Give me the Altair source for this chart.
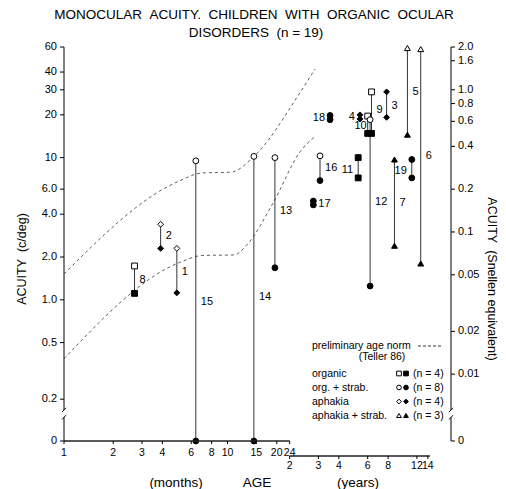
import altair as alt
import pandas as pd

# ---------------- data ----------------
title_lines = [
    "MONOCULAR\u00a0\u00a0ACUITY.\u00a0\u00a0CHILDREN\u00a0\u00a0WITH\u00a0\u00a0ORGANIC\u00a0\u00a0OCULAR",
    "DISORDERS\u00a0\u00a0(n = 19)",
]

subjects = [str(i) for i in range(1, 20)]
groups = ["aphakia"] * 4 + ["aphakia + strab."] * 3 + ["organic"] * 4 + ["org. + strab."] * 8
age_months = [4.9, 3.9, 94, 64.6, 126, 152, 105, 2.7, 76, 72, 63, 74.5, 19.5, 14.5, 6.4, 36.8, 33.5, 42.4, 134]
acuity_a = [2.3, 3.4, 29, 20, 59, 58, 9.7, 1.73, 29, 19.6, 10, 18.5, 10, 10.2, 9.5, 10.3, 4.95, 19.8, 9.7]
state_a = ["open", "open", "filled", "filled", "open", "open", "filled", "open", "open", "open",
           "filled", "open", "open", "open", "open", "open", "filled", "filled", "filled"]
acuity_b = [1.12, 2.3, 19.2, 18.7, 14.5, 1.8, 2.4, 1.11, 14.8, 14.8, 7.2, 1.25, 1.68, 0, 0, 6.9, 4.65, 18.5, 7.2]
state_b = ["filled"] * 19
label_acuity = [1.58, 2.8, 23, 19.4, 29, 10.3, 4.8, 1.37, 21.8, 16.6, 8.2, 4.9, 4.2, 1.05, 0.96, 8.4, 4.75, 19.1, 8.1]
label_side = ["right", "right", "right", "left", "right", "right", "right", "right", "right", "left",
              "left", "right", "right", "right", "right", "right", "right", "left", "left"]

norm_age = [1, 5.0, 7.0, 10.5, 14.5, 27.8, 34.3]
norm_upper = [1.52, 6.8, 7.8, 7.9, 10.2, 28.7, 42]
norm_age_low = [1, 5.2, 7.0, 11.0, 13.0, 19.0, 27.8, 34.3]
norm_lower = [0.385, 1.85, 2.05, 2.07, 2.4, 4.8, 11.0, 14.1]

left_tick_values = [60, 40, 30, 20, 10, 6, 4, 2, 1, 0.5, 0.2, 0]
left_tick_labels = ["60", "40", "30", "20", "10", "6.0", "4.0", "2.0", "1.0", "0.5", "0.2", "0"]
snellen_values = [2.0, 1.6, 1.0, 0.8, 0.6, 0.4, 0.2, 0.1, 0.05, 0.02, 0.01, 0]
snellen_labels = ["2.0", "1.6", "1.0", "0.8", "0.6", "0.4", "0.2", "0.1", "0.05", "0.02", "0.01", "0"]
month_ticks = [1, 2, 3, 4, 6, 8, 10, 15, 20, 24]
year_ticks = [2, 3, 4, 6, 8, 12, 14]
legend_groups = ["organic", "org. + strab.", "aphakia", "aphakia + strab."]
legend_counts = ["(n = 4)", "(n = 8)", "(n = 4)", "(n = 3)"]
legend_shapes = ["square", "circle", "diamond", "triangle-up"]

# ---------------- layout / style ----------------
W, H = 387, 394
FONT = "Liberation Sans"
ZERO_AT = 0.1016          # where "0" sits below the axis break
BREAK_HI, BREAK_LO = 0.168, 0.149
X_MAX = 232.8
YEAR_AXIS_END = 173
label_dx = {"10": -1}

XS = alt.Scale(type="log", domain=[1, X_MAX], nice=False, zero=False)
YS = alt.Scale(type="log", domain=[ZERO_AT, 60], nice=False, zero=False)
SHAPES = alt.Scale(domain=legend_groups, range=legend_shapes)
FILLS = alt.Scale(domain=["open", "filled"], range=["white", "black"])


def X(field="age"):
    return alt.X(f"{field}:Q", scale=XS, axis=None)


def Y(field="acu"):
    return alt.Y(f"{field}:Q", scale=YS, axis=None)


def txt(text, x, y, size=11, angle=0, align="center"):
    return alt.Chart(pd.DataFrame({"t": [text]})).mark_text(
        font=FONT, fontSize=size, angle=angle, align=align, baseline="middle", color="black"
    ).encode(text="t:N", x=alt.value(x), y=alt.value(y))


# ---------------- tables ----------------
pts = pd.DataFrame({
    "subject": subjects * 2,
    "group": groups * 2,
    "age": age_months * 2,
    "acu": acuity_a + acuity_b,
    "state": state_a + state_b,
})
segs = pd.DataFrame({"subject": subjects, "age": age_months, "top": acuity_a, "bot": acuity_b})
labs = pd.DataFrame({"subject": subjects, "age": age_months, "acu": label_acuity, "side": label_side})
norm = pd.DataFrame({
    "curve": ["upper"] * len(norm_age) + ["lower"] * len(norm_age_low),
    "age": norm_age + norm_age_low,
    "acu": norm_upper + norm_lower,
})
lt = pd.DataFrame({"v": left_tick_values, "lab": left_tick_labels})
rt = pd.DataFrame({"s": snellen_values, "lab": snellen_labels})
mt = pd.DataFrame({"age": month_ticks, "lab": [str(v) for v in month_ticks]})
yt = pd.DataFrame({"yr": year_ticks, "lab": [str(v) for v in year_ticks]})

layers = []

# norm curves
layers.append(alt.Chart(norm).mark_line(
    interpolate="monotone", strokeDash=[3, 3], strokeWidth=0.8, color="#333"
).encode(x=X(), y=Y(), detail="curve:N"))

# subject lines
layers.append(alt.Chart(segs).transform_calculate(
    bot_p=f"max(datum.bot, {ZERO_AT})"
).mark_rule(strokeWidth=1, color="#333").encode(
    x=X(), y=Y("top"), y2="bot_p:Q"))

# points
layers.append(alt.Chart(pts).transform_calculate(
    acu_p=f"max(datum.acu, {ZERO_AT})"
).mark_point(size=34, strokeWidth=1, opacity=1, stroke="black").encode(
    x=X(), y=Y("acu_p"),
    shape=alt.Shape("group:N", scale=SHAPES, legend=None),
    fill=alt.Fill("state:N", scale=FILLS, legend=None),
))

# subject labels
for s, a, m, side in zip(subjects, label_acuity, age_months, label_side):
    dx = label_dx.get(s, 5 if side == "right" else -5)
    layers.append(alt.Chart(labs).transform_filter(f"datum.subject == '{s}'").mark_text(
        font=FONT, fontSize=11, align="left" if side == "right" else "right",
        baseline="middle", dx=dx, color="black"
    ).encode(x=X(), y=Y(), text="subject:N"))

# left axis (with break)
axl = pd.DataFrame({"a": [60, BREAK_LO], "b": [BREAK_HI, ZERO_AT]})
brk = pd.DataFrame({"a": [BREAK_HI * 1.035, BREAK_LO * 1.035], "b": [BREAK_HI / 1.035, BREAK_LO / 1.035]})
for xpos in (0, W):
    layers.append(alt.Chart(axl).mark_rule(color="black", strokeWidth=1).encode(
        x=alt.value(xpos), y=Y("a"), y2="b:Q"))
    layers.append(alt.Chart(brk).mark_rule(color="black", strokeWidth=1).encode(
        x=alt.value(xpos - 2), x2=alt.value(xpos + 2), y=Y("b"), y2="a:Q"))

layers.append(alt.Chart(lt).transform_calculate(vp=f"max(datum.v, {ZERO_AT})").mark_rule(
    color="black", strokeWidth=1
).encode(x=alt.value(-4), x2=alt.value(0), y=Y("vp")))
layers.append(alt.Chart(lt).transform_calculate(vp=f"max(datum.v, {ZERO_AT})").mark_text(
    font=FONT, fontSize=11, align="right", baseline="middle", color="black"
).encode(x=alt.value(-7), y=Y("vp"), text="lab:N"))

# right axis (Snellen equivalent, 1.0 = 30 c/deg)
layers.append(alt.Chart(rt).transform_calculate(vp=f"max(datum.s * 30, {ZERO_AT})").mark_rule(
    color="black", strokeWidth=1
).encode(x=alt.value(W), x2=alt.value(W + 4), y=Y("vp")))
layers.append(alt.Chart(rt).transform_calculate(vp=f"max(datum.s * 30, {ZERO_AT})").mark_text(
    font=FONT, fontSize=11, align="left", baseline="middle", color="black"
).encode(x=alt.value(W + 7), y=Y("vp"), text="lab:N"))

# month axis
layers.append(alt.Chart(pd.DataFrame({"a": [month_ticks[0]], "b": [month_ticks[-1]]})).mark_rule(
    color="#222", strokeWidth=1.3
).encode(x=X("a"), x2="b:Q", y=alt.value(H)))
layers.append(alt.Chart(mt).mark_rule(color="black").encode(
    x=X(), y=alt.value(H), y2=alt.value(H + 3)))
layers.append(alt.Chart(mt).mark_text(
    font=FONT, fontSize=10.5, align="center", baseline="middle", color="black"
).encode(x=X(), y=alt.value(H + 12), text="lab:N"))

# year axis
layers.append(alt.Chart(pd.DataFrame({"a": [24], "b": [YEAR_AXIS_END]})).mark_rule(
    color="#222", strokeWidth=1.3
).encode(x=X("a"), x2="b:Q", y=alt.value(H + 15)))
layers.append(alt.Chart(yt).transform_calculate(age="datum.yr * 12").mark_rule(color="black").encode(
    x=X(), y=alt.value(H + 15), y2=alt.value(H + 18)))
layers.append(alt.Chart(yt).transform_calculate(age="datum.yr * 12").mark_text(
    font=FONT, fontSize=10.5, align="center", baseline="middle", color="black"
).encode(x=X(), y=alt.value(H + 25), text="lab:N"))

# titles
layers.append(txt(title_lines[0], 190, -32, size=13.5))
layers.append(txt(title_lines[1], 192, -14, size=13.5))
layers.append(txt("ACUITY\u00a0\u00a0(c/deg)", -42, 212, size=12.5, angle=270))
layers.append(txt("ACUITY\u00a0\u00a0(Snellen equivalent)", 428, 232, size=12.5, angle=90))
layers.append(txt("(months)", 112, 436, size=13.5))
layers.append(txt("AGE", 193, 436, size=13.5))
layers.append(txt("(years)", 294, 436, size=13.5))

# legend
layers.append(txt("preliminary age norm", 248, 299, size=10.5, align="left"))
layers.append(alt.Chart(pd.DataFrame({"k": [1]})).mark_rule(
    strokeDash=[3, 2], color="black", strokeWidth=0.8
).encode(x=alt.value(354), x2=alt.value(377), y=alt.value(299)))
layers.append(txt("(Teller 86)", 318, 310, size=10.5))
for i, (g, n, shp) in enumerate(zip(legend_groups, legend_counts, legend_shapes)):
    yy = 326.5 + 14 * i
    layers.append(txt(g, 248, yy, size=10.5, align="left"))
    layers.append(txt(n, 349, yy, size=10.5, align="left"))
    one = pd.DataFrame({"k": [1]})
    layers.append(alt.Chart(one).mark_point(
        shape=shp, size=22, fill="white", stroke="black", strokeWidth=1, opacity=1
    ).encode(x=alt.value(335), y=alt.value(yy)))
    layers.append(alt.Chart(one).mark_point(
        shape=shp, size=22, fill="black", stroke="black", strokeWidth=1, opacity=1
    ).encode(x=alt.value(342), y=alt.value(yy)))

chart = alt.layer(*layers).properties(
    width=W, height=H,
    padding={"left": 64, "top": 47, "right": 55, "bottom": 48},
    autosize="none",
    background="white",
).configure_view(stroke=None)

chart.save("out.html", embed_options={"renderer": "svg", "actions": False})
